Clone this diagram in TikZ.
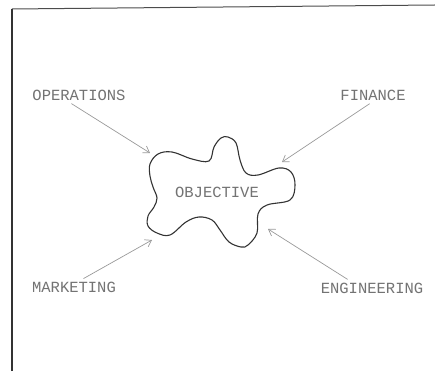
\documentclass[tikz,border=0pt]{standalone}
\usepackage{fontspec}
\setmonofont{Liberation Mono}
\usetikzlibrary{arrows.meta,positioning}

\tikzset{
  label/.style={font=\ttfamily\fontsize{15.5}{18}\selectfont, text=black!55, inner sep=1pt},
  feed/.style={draw=black!40, line width=0.7pt, -{Straight Barb[length=6pt,width=8pt]}, shorten <=4pt},
  blob/.style={draw=black!80, line width=1.1pt}
}

\begin{document}
\begin{tikzpicture}[x=1pt, y=-1pt]
      \useasboundingbox (0,0) rectangle (435,371);
      % frame
      \draw[black!70, line width=1pt] (12,9) -- (435,5);
      \draw[black!80, line width=1.6pt] (12,371) -- (12,9);

      % objective shape
      \draw[blob] plot[smooth cycle, tension=0.6] coordinates {
        (150,164) (158,154) (172,152) (192,159) (209,161) (214,147) (221,138)
        (228,137) (236,143) (240,160) (246,173) (258,175) (279,168) (291,172)
        (295,185) (290,200) (267,205) (258,214) (257,233) (248,245) (241,247)
        (229,242) (220,230) (212,220) (199,217) (186,222) (170,235) (157,233)
        (148,226) (148,216) (154,207) (157,198) (153,187) (150,176)};

      \node[label] (obj) at (217,192) {OBJECTIVE};
      \node[label] (ops) at (79,95) {OPERATIONS};
      \node[label] (fin) at (373,95) {FINANCE};
      \node[label] (mkt) at (74,287) {MARKETING};
      \node[label] (eng) at (372,288) {ENGINEERING};

      \coordinate (opsin) at (150,153);
      \coordinate (finin) at (282,162);
      \coordinate (mktin) at (152,240);
      \coordinate (engin) at (268,229);

      \draw[feed] ([xshift=-11pt]ops.south) -- (opsin);
      \draw[feed] (fin.south) -- (finin);
      \draw[feed] ([xshift=6pt]mkt.north) -- (mktin);
      \draw[feed] ([xshift=-21pt]eng.north) -- (engin);
    \end{tikzpicture}
\end{document}
